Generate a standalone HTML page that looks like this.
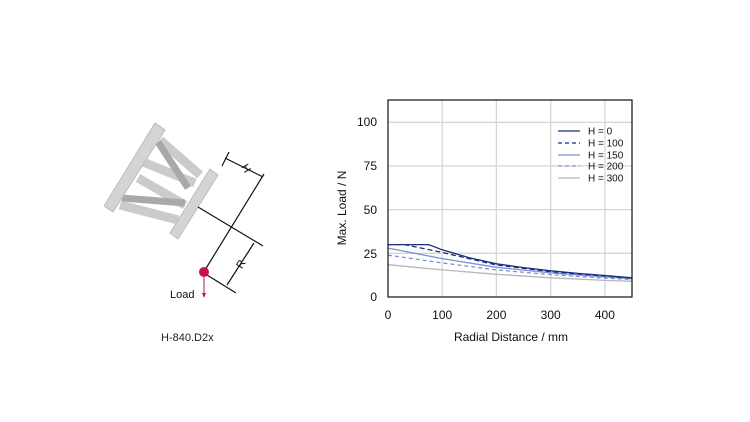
<!DOCTYPE html>
<html><head><meta charset="utf-8"><style>
html,body{margin:0;padding:0;background:#fff;width:750px;height:422px;overflow:hidden}
svg{display:block;font-family:"Liberation Sans",Arial,sans-serif}
</style></head><body>
<svg width="750" height="422" viewBox="0 0 750 422">
<g>
  <g stroke="#cbcbcb" stroke-width="9">
    <line x1="160" y1="140" x2="200" y2="175"/>
    <line x1="143" y1="162" x2="195" y2="183"/>
    <line x1="138" y1="178" x2="185" y2="205"/>
    <line x1="120" y1="205" x2="178" y2="220"/>
  </g>
  <g stroke="#a9a9a9" stroke-width="7">
    <line x1="158" y1="142" x2="188" y2="188"/>
    <line x1="122" y1="198" x2="185" y2="203"/>
  </g>
  <polygon points="104,206 155,123 165,130 113,212" fill="#d4d4d4" stroke="#bdbdbd" stroke-width="1"/>
  <polygon points="170,233 210,169 218,175 178,239" fill="#d4d4d4" stroke="#bdbdbd" stroke-width="1"/>
  <g stroke="#111" stroke-width="1.2" fill="none">
    <line x1="198" y1="207" x2="263" y2="246"/>
    <line x1="264" y1="174" x2="205" y2="270"/>
    <line x1="229" y1="152" x2="222" y2="166"/>
    <line x1="225" y1="158" x2="263" y2="177"/>
    <line x1="254" y1="243" x2="227" y2="285"/>
    <line x1="207" y1="275" x2="236" y2="293"/>
  </g>
  <text x="0" y="0" font-size="11" fill="#111" text-anchor="middle" transform="translate(243 170) rotate(60)">H</text>
  <text x="0" y="0" font-size="11" fill="#111" text-anchor="middle" transform="translate(244 266) rotate(-60)">R</text>
  <circle cx="204" cy="272" r="5" fill="#c8104e"/>
  <line x1="204" y1="276" x2="204" y2="296" stroke="#c8104e" stroke-width="1"/>
  <polygon points="202,293 206,293 204,298" fill="#c8104e"/>
  <text x="170" y="298" font-size="11" fill="#111">Load</text>
  <text x="161" y="341" font-size="11" fill="#222">H-840.D2x</text>
</g>
<g stroke="#d6d6d6" stroke-width="1.3">
  <line x1="442.2" y1="100" x2="442.2" y2="297"/>
  <line x1="496.4" y1="100" x2="496.4" y2="297"/>
  <line x1="550.7" y1="100" x2="550.7" y2="297"/>
  <line x1="604.9" y1="100" x2="604.9" y2="297"/>
  <line x1="388" y1="253.3" x2="632" y2="253.3"/>
  <line x1="388" y1="209.6" x2="632" y2="209.6"/>
  <line x1="388" y1="165.9" x2="632" y2="165.9"/>
  <line x1="388" y1="122.3" x2="632" y2="122.3"/>
</g>
<g fill="none" stroke-width="1.3">
  <polyline stroke="#b8b8b8" points="388,264.7 442.2,269.9 496.4,274.3 550.7,277.8 604.9,280.4 632,281.3"/>
  <polyline stroke="#7d92cf" stroke-dasharray="4,3" points="388,255.1 442.2,262.9 496.4,269.9 550.7,274.6 604.9,278.1 632,279.5"/>
  <polyline stroke="#7d92cf" points="388,248.1 442.2,258.6 496.4,267.3 550.7,272.9 604.9,276.9 632,278.7"/>
  <polyline stroke="#1a2f80" stroke-dasharray="5,3" points="388,244.6 404.3,244.6 442.2,252.4 496.4,265 550.7,271.7 604.9,276 632,278.1"/>
  <polyline stroke="#1a2f80" points="388,244.6 428.7,244.6 442.2,249.8 469.3,257.7 496.4,263.8 523.6,267.6 550.7,270.8 577.8,273.4 604.9,275.5 632,277.8"/>
</g>
<rect x="388" y="100" width="244" height="197" fill="none" stroke="#111" stroke-width="1.2"/>
<g font-size="12" fill="#111" text-anchor="end">
  <text x="377" y="301">0</text>
  <text x="377" y="258">25</text>
  <text x="377" y="214">50</text>
  <text x="377" y="170">75</text>
  <text x="377" y="126">100</text>
</g>
<g font-size="12" fill="#111" text-anchor="middle">
  <text x="388" y="319">0</text>
  <text x="442.2" y="319">100</text>
  <text x="496.4" y="319">200</text>
  <text x="550.7" y="319">300</text>
  <text x="604.9" y="319">400</text>
  <text x="511" y="341">Radial Distance / mm</text>
</g>
<text x="0" y="0" font-size="12" fill="#111" text-anchor="middle" transform="translate(346 208) rotate(-90)">Max. Load / N</text>
<g stroke-width="1.3">
  <line x1="558" y1="131" x2="580" y2="131" stroke="#1a2f80"/>
  <line x1="558" y1="143" x2="580" y2="143" stroke="#1a2f80" stroke-dasharray="4,3"/>
  <line x1="558" y1="155" x2="580" y2="155" stroke="#7d92cf"/>
  <line x1="558" y1="166" x2="580" y2="166" stroke="#7d92cf" stroke-dasharray="4,3"/>
  <line x1="558" y1="178" x2="580" y2="178" stroke="#b8b8b8"/>
</g>
<g font-size="10" fill="#111">
  <text x="588" y="134.5">H = 0</text>
  <text x="588" y="146.5">H = 100</text>
  <text x="588" y="158.5">H = 150</text>
  <text x="588" y="169.5">H = 200</text>
  <text x="588" y="181.5">H = 300</text>
</g>
</svg>
</body></html>
